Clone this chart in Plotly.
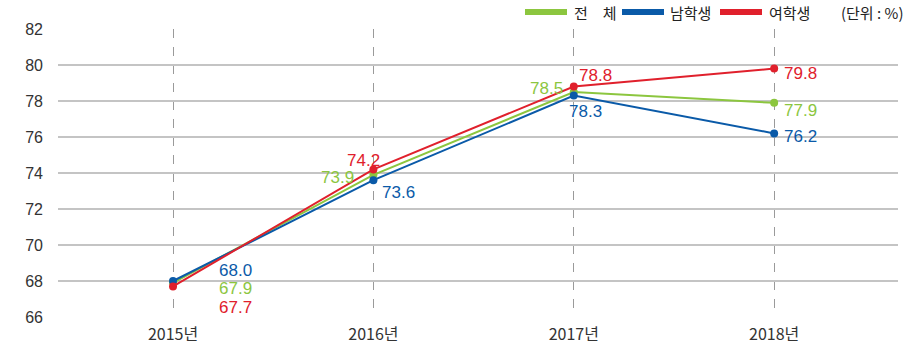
import plotly.graph_objects as go

years = ["2015년", "2016년", "2017년", "2018년"]
total = [67.9, 73.9, 78.5, 77.9]
male = [68.0, 73.6, 78.3, 76.2]
female = [67.7, 74.2, 78.8, 79.8]
y_ticks = [66, 68, 70, 72, 74, 76, 78, 80, 82]
legend_names = ["전　체", "남학생", "여학생"]
unit_text = "(단위 : %)"

GREEN = "#8cc63f"
BLUE = "#0a5aa8"
RED = "#e0202c"

W, H = 909, 351
ML, MR, MT, MB = 58, 11, 29, 34
PW, PH = W - ML - MR, H - MT - MB


def px(x):
    return (x - ML) / PW


def py(y):
    return (H - MB - y) / PH


xs = list(range(len(years)))
fig = go.Figure()

series = [(legend_names[0], total, GREEN), (legend_names[1], male, BLUE), (legend_names[2], female, RED)]
for name, vals, col in series:
    fig.add_trace(go.Scatter(x=xs, y=vals, mode="lines+markers", name=name,
                             line=dict(color=col, width=2),
                             marker=dict(color=col, size=8), showlegend=False))

# label offsets (xshift, yshift, anchor)
offsets = {
    "total": [(44, -6, "left"), (-17, -3, "right"), (-9, 4, "right"), (8, -8, "left")],
    "male": [(44, 11, "left"), (7, -12, "left"), (-7, -16, "left"), (8, -3, "left")],
    "female": [(44, -21, "left"), (-28, 9, "left"), (3, 11, "left"), (8, -5, "left")],
}
for key, vals, col in [("total", total, GREEN), ("male", male, BLUE), ("female", female, RED)]:
    for i, v in enumerate(vals):
        dx, dy, anc = offsets[key][i]
        fig.add_annotation(x=xs[i], y=v, text=f"{v:.1f}", showarrow=False,
                           xanchor=anc, yanchor="middle", xshift=dx, yshift=dy,
                           font=dict(family="Liberation Sans, Arial", size=17, color=col))

# manual legend
leg_y = py(12)
leg_items = [(525, 572, GREEN, legend_names[0]), (622, 668, BLUE, legend_names[1]),
             (720, 767, RED, legend_names[2])]
for x0, tx, col, name in leg_items:
    fig.add_shape(type="line", xref="paper", yref="paper", x0=px(x0), x1=px(x0 + 42),
                  y0=leg_y, y1=leg_y, line=dict(color=col, width=6))
    fig.add_annotation(xref="paper", yref="paper", x=px(tx), y=leg_y, xanchor="left",
                       yanchor="middle", text=name, showarrow=False,
                       font=dict(family="Noto Sans CJK KR", size=15, color="#222"))
fig.add_annotation(xref="paper", yref="paper", x=px(905), y=leg_y, xanchor="right",
                   yanchor="middle", text=unit_text, showarrow=False,
                   font=dict(family="Noto Sans CJK KR", size=15, color="#222"))

fig.update_layout(
    width=W, height=H,
    margin=dict(l=ML, r=MR, t=MT, b=MB),
    plot_bgcolor="white", paper_bgcolor="white",
    showlegend=False,
    xaxis=dict(tickmode="array", tickvals=xs, ticktext=years, automargin=False,
               range=[-0.574, 3.618], showgrid=True, gridcolor="#9a9a9a", griddash="dash",
               gridwidth=1, zeroline=False, showline=False, ticks="", ticklabelstandoff=6,
               tickfont=dict(family="Liberation Sans Narrow, Noto Sans CJK KR", size=16, color="#333")),
    yaxis=dict(tickmode="array", tickvals=y_ticks, range=[66, 82], automargin=False,
               showgrid=True, gridcolor="#c4c4c4", gridwidth=1.5, zeroline=False,
               showline=False, ticks="", ticklabelstandoff=14,
               tickfont=dict(family="Liberation Sans, Arial", size=16, color="#333")),
)

fig.write_html("out.html")
